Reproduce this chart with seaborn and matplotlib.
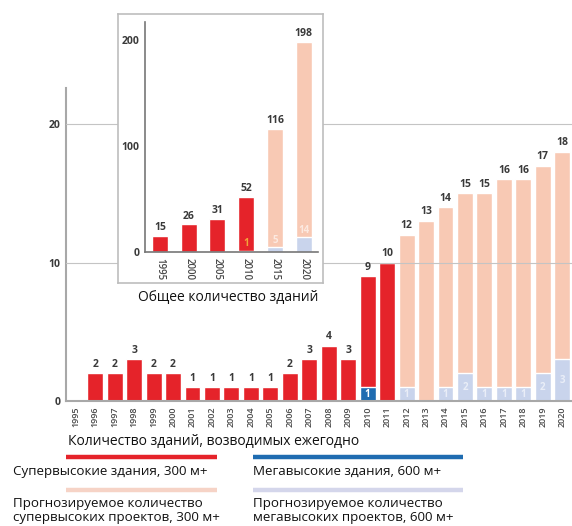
import pandas as pd
import matplotlib
matplotlib.use("Agg")
import matplotlib.pyplot as plt
from matplotlib.lines import Line2D
import seaborn as sns

sns.set_style("white")
plt.rcParams["font.family"] = ["Open Sans", "DejaVu Sans"]

# data: yearly completions (main chart)
years = [str(y) for y in range(1995, 2021)]
totals = [0, 2, 2, 3, 2, 2, 1, 1, 1, 1, 1, 2, 3, 4, 3, 9, 10,
          12, 13, 14, 15, 15, 16, 16, 17, 18]
mega = [0] * 15 + [1, 0, 1, 0, 1, 2, 1, 1, 1, 2, 3]
status = ["actual"] * 17 + ["forecast"] * 9

# data: cumulative totals (inset)
inset_years = ["1995", "2000", "2005", "2010", "2015", "2020"]
inset_totals = [15, 26, 31, 52, 116, 198]
inset_mega = [0, 0, 0, 1, 5, 14]
inset_status = ["actual"] * 4 + ["forecast"] * 2

RED = "#E5232A"
BLUE = "#1F6CB1"
PEACH = "#F8C9B4"
LAV = "#C9D4EC"
TXT = "#3a3a3a"

df = pd.DataFrame({"year": years, "total": totals, "mega": mega, "status": status})
dfi = pd.DataFrame({"year": inset_years, "total": inset_totals,
                    "mega": inset_mega, "status": inset_status})

W, H = 572, 526
fig = plt.figure(figsize=(W / 100, H / 100), dpi=100)

# ---- main axes ----
ax = fig.add_axes([66 / W, 1 - 401 / H, (W - 66) / W, (401 - 88) / H])
ax.set_zorder(1)
sns.barplot(data=df, x="year", y="total", hue="status", order=years,
            palette={"actual": RED, "forecast": PEACH}, dodge=False,
            width=0.82, legend=False, ax=ax, saturation=1)
sns.barplot(data=df, x="year", y="mega", hue="status", order=years,
            palette={"actual": BLUE, "forecast": LAV}, dodge=False,
            width=0.82, legend=False, ax=ax, saturation=1)
ax.set_xlim(-0.5, 25.5)
ax.set_ylim(0, 22.6)
ax.set_xlabel("")
ax.set_ylabel("")
for y in (10, 20):
    ax.axhline(y, color="#c4c4c4", lw=0.8, zorder=3)

for i, (t, m, s) in enumerate(zip(totals, mega, status)):
    if t > 0:
        ax.text(i, t + 0.25, str(t), ha="center", va="bottom",
                fontsize=7.5, fontweight="bold", color=TXT)
    if m > 0:
        if s == "actual":
            ax.text(i, m / 2, str(m), ha="center", va="center",
                    fontsize=7, fontweight="bold", color="white")
        else:
            ax.text(i, m / 2, str(m), ha="center", va="center",
                    fontsize=7, fontweight="bold", color="white", alpha=0.6)

for side in ("top", "right"):
    ax.spines[side].set_visible(False)
for side in ("left", "bottom"):
    ax.spines[side].set_color("#a8a8a8")
    ax.spines[side].set_linewidth(1.5)
ax.set_yticks([0, 10, 20])
ax.set_yticklabels(["0", "10", "20"], fontsize=7.5, fontweight="bold", color=TXT)
ax.tick_params(axis="y", length=2, color="#888888", pad=2)
ax.set_xticks(range(len(years)))
ax.set_xticklabels(years, rotation=90, fontsize=6.5, fontweight="semibold",
                   color="#4a4a4a")
ax.tick_params(axis="x", which="major", length=0, pad=4)
ax.set_xticks([i + 0.5 for i in range(len(years) - 1)], minor=True)
ax.tick_params(axis="x", which="minor", length=3, width=1.3, color="#555555")

# ---- inset box ----
box = fig.add_axes([118 / W, 1 - 283 / H, 205 / W, 269 / H])
box.set_zorder(2)
box.set_xticks([])
box.set_yticks([])
box.set_facecolor("white")
for sp in box.spines.values():
    sp.set_color("#bdbdbd")
    sp.set_linewidth(1.2)

ins = fig.add_axes([145 / W, 1 - 252 / H, 173 / W, 230 / H])
ins.set_zorder(3)
ins.patch.set_alpha(0)
sns.barplot(data=dfi, x="year", y="total", hue="status", order=inset_years,
            palette={"actual": RED, "forecast": PEACH}, dodge=False,
            width=0.56, legend=False, ax=ins, saturation=1)
sns.barplot(data=dfi, x="year", y="mega", hue="status", order=inset_years,
            palette={"actual": BLUE, "forecast": LAV}, dodge=False,
            width=0.56, legend=False, ax=ins, saturation=1)
ins.set_xlim(-0.52, 5.5)
ins.set_ylim(0, 217)
ins.set_xlabel("")
ins.set_ylabel("")
for i, (t, m, s) in enumerate(zip(inset_totals, inset_mega, inset_status)):
    ins.text(i, t + 2.5, str(t), ha="center", va="bottom",
             fontsize=7.5, fontweight="bold", color=TXT)
    if m > 0:
        if s == "actual":
            ins.text(i, 8, str(m), ha="center", va="center",
                     fontsize=7, fontweight="bold", color="#F2A33A")
        else:
            ins.text(i, m + 6, str(m), ha="center", va="center",
                     fontsize=7, fontweight="bold", color="white", alpha=0.6)
for side in ("top", "right"):
    ins.spines[side].set_visible(False)
for side in ("left", "bottom"):
    ins.spines[side].set_color("#777777")
    ins.spines[side].set_linewidth(1.2)
ins.set_yticks([0, 100, 200])
ins.set_yticklabels(["0", "100", "200"], fontsize=7.5, fontweight="bold", color=TXT)
ins.tick_params(axis="y", length=2, color="#888888", pad=2)
ins.set_xticks(range(len(inset_years)))
ins.set_xticklabels(inset_years, rotation=270, fontsize=7, fontweight="semibold",
                    color="#4a4a4a")
ins.tick_params(axis="x", which="major", length=0, pad=4)
ins.set_xticks([i + 0.5 for i in range(len(inset_years))], minor=True)
ins.tick_params(axis="x", which="minor", length=3, width=1.2, color="#555555")

# ---- texts ----
fig.text(228 / W, 1 - 298 / H, "Общее количество зданий", ha="center",
         va="center", fontsize=10, color="#111111")
fig.text(68 / W, 1 - 441 / H, "Количество зданий, возводимых ежегодно",
         ha="left", va="center", fontsize=10, color="#111111")

# ---- legend ----
def legend_line(x0, x1, y, color):
    fig.add_artist(Line2D([x0 / W, x1 / W], [1 - y / H, 1 - y / H],
                          color=color, lw=3.2, solid_capstyle="butt"))

legend_line(66, 217, 457, RED)
legend_line(253, 463, 457, BLUE)
legend_line(66, 217, 490, "#F6D3C6")
legend_line(253, 463, 490, "#D4D6EB")

LEG_FS = 9.6
fig.text(13 / W, 1 - 471 / H, "Супервысокие здания, 300 м+", ha="left",
         va="center", fontsize=LEG_FS, color="#111111")
fig.text(253 / W, 1 - 471 / H, "Мегавысокие здания, 600 м+", ha="left",
         va="center", fontsize=LEG_FS, color="#111111")
fig.text(13 / W, 1 - 504 / H, "Прогнозируемое количество", ha="left",
         va="center", fontsize=LEG_FS, color="#111111")
fig.text(13 / W, 1 - 518 / H, "супервысоких проектов, 300 м+", ha="left",
         va="center", fontsize=LEG_FS, color="#111111")
fig.text(253 / W, 1 - 504 / H, "Прогнозируемое количество", ha="left",
         va="center", fontsize=LEG_FS, color="#111111")
fig.text(253 / W, 1 - 518 / H, "мегавысоких проектов, 600 м+", ha="left",
         va="center", fontsize=LEG_FS, color="#111111")

fig.savefig("out.png", dpi=100, facecolor="white")
